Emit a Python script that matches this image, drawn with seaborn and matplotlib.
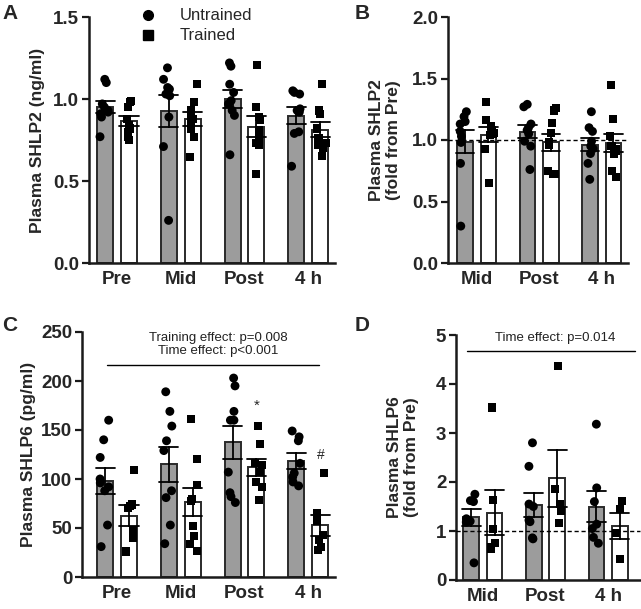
import numpy as np
import pandas as pd
import matplotlib
matplotlib.use("Agg")
import matplotlib.pyplot as plt
import seaborn as sns
from matplotlib.lines import Line2D

# ---------------- data ----------------
groups = ["Untrained", "Trained"]
times_abs = ["Pre", "Mid", "Post", "4 h"]
times_fold = ["Mid", "Post", "4 h"]

# Panel A: Plasma SHLP2 (ng/ml)
a_untrained = [
    [1.12, 1.10, 0.97, 0.95, 0.93, 0.92, 0.91, 0.89, 0.77],
    [1.19, 1.12, 1.07, 1.06, 1.03, 1.02, 0.89, 0.71, 0.26],
    [1.22, 1.20, 1.09, 1.04, 0.99, 0.97, 0.93, 0.90, 0.66],
    [1.05, 1.04, 1.03, 0.94, 0.93, 0.92, 0.80, 0.79, 0.59],
]
a_trained = [
    [0.99, 0.98, 0.95, 0.88, 0.84, 0.82, 0.80, 0.77, 0.75],
    [1.09, 0.98, 0.93, 0.91, 0.88, 0.86, 0.82, 0.77, 0.645],
    [1.21, 0.95, 0.89, 0.87, 0.81, 0.77, 0.73, 0.72, 0.54],
    [1.09, 0.93, 0.91, 0.82, 0.76, 0.73, 0.72, 0.70, 0.65],
]

# Panel B: Plasma SHLP2 fold from Pre
b_untrained = [
    [1.23, 1.19, 1.15, 1.13, 1.07, 1.03, 0.98, 0.81, 0.30],
    [1.29, 1.27, 1.13, 1.10, 1.08, 1.05, 0.99, 0.95, 0.76],
    [1.23, 1.10, 1.07, 0.99, 0.95, 0.93, 0.89, 0.81, 0.68],
]
b_trained = [
    [1.31, 1.16, 1.11, 1.08, 1.06, 1.05, 1.04, 0.93, 0.65],
    [1.26, 1.24, 1.14, 1.06, 0.98, 0.96, 0.75, 0.72, 0.72],
    [1.45, 1.17, 1.03, 0.95, 0.93, 0.91, 0.89, 0.75, 0.70],
]

# Panel C: Plasma SHLP6 (pg/ml)
c_untrained = [
    [160, 140, 122, 100, 96, 92, 88, 53, 31],
    [189, 169, 154, 139, 129, 88, 81, 53, 34],
    [203, 195, 169, 160, 160, 107, 86, 82, 76],
    [149, 143, 139, 116, 106, 102, 97, 93],
]
c_trained = [
    [109, 74, 72, 70, 48, 40, 26],
    [161, 120, 94, 80, 78, 52, 42, 34, 27],
    [154, 136, 116, 114, 107, 97, 92, 79],
    [106, 65, 57, 43, 38, 31, 28],
]

# Panel D: Plasma SHLP6 fold from Pre
d_untrained = [
    [1.75, 1.62, 1.60, 1.25, 1.20, 1.18, 0.35],
    [2.80, 2.32, 1.55, 1.50, 1.22, 1.19, 0.86, 0.84],
    [3.18, 1.88, 1.60, 1.14, 1.05, 0.87, 0.75],
]
d_trained = [
    [3.52, 1.63, 1.05, 0.75, 0.67, 0.63],
    [4.37, 1.85, 1.56, 1.41, 1.17],
    [1.62, 1.44, 0.95, 0.42],
]

# annotation texts
c_stats = ["Training effect: p=0.008", "Time effect: p<0.001"]
d_stats = ["Time effect: p=0.014"]

FONT = ["Liberation Sans", "DejaVu Sans"]
sns.set_theme(style="ticks")
plt.rcParams["font.family"] = FONT
plt.rcParams["font.weight"] = "bold"
np.random.seed(3)


def make_df(times, unt, tra):
    rows = []
    for t, u, v in zip(times, unt, tra):
        rows += [(t, "Untrained", x) for x in u]
        rows += [(t, "Trained", x) for x in v]
    return pd.DataFrame(rows, columns=["time", "group", "value"])


def draw(ax, df, order, ylim, yticks, ylabel, xlim, ticklabels):
    sns.barplot(data=df, x="time", y="value", hue="group", order=order,
                hue_order=groups,
                palette={"Untrained": "#9c9c9c", "Trained": "white"},
                edgecolor="#2a2a2a", linewidth=1.4, width=0.75, gap=1 / 3,
                errorbar="se", capsize=0.6,
                err_kws={"color": "black", "linewidth": 1.3},
                legend=False, ax=ax)
    for g, m, s in [("Untrained", "o", 6.4), ("Trained", "s", 5.8)]:
        sns.stripplot(data=df[df["group"] == g], x="time", y="value",
                      hue="group", order=order, hue_order=groups, dodge=True,
                      jitter=0.15,
                      palette={"Untrained": "black", "Trained": "black"},
                      marker=m, size=s, linewidth=0, legend=False, ax=ax)
    ax.set_ylim(*ylim)
    ax.set_xlim(*xlim)
    ax.set_yticks(yticks)
    ax.set_yticklabels(ticklabels, fontsize=13.5, fontweight="bold")
    ax.set_xticks(range(len(order)))
    ax.set_xticklabels(order, fontsize=13.5, fontweight="bold")
    ax.set_xlabel("")
    ax.set_ylabel(ylabel, fontsize=12.5, fontweight="bold")
    sns.despine(ax=ax)
    for sp in ["left", "bottom"]:
        ax.spines[sp].set_linewidth(1.8)
        ax.spines[sp].set_color("#1a1a1a")
    ax.tick_params(axis="x", length=0, pad=6)
    ax.tick_params(axis="y", length=5, width=1.6, color="#1a1a1a", pad=2)


fig = plt.figure(figsize=(6.41, 6.09), dpi=100)
W, H = 641, 609


def add_axes(x0, x1, ytop, ybot):
    return fig.add_axes([x0 / W, (H - ybot) / H, (x1 - x0) / W, (ybot - ytop) / H])


axA = add_axes(89, 335, 17, 263)
axB = add_axes(448, 628, 17, 263)
axC = add_axes(82, 335, 332, 577)
axD = add_axes(456, 640, 335, 580)

dfA = make_df(times_abs, a_untrained, a_trained)
dfB = make_df(times_fold, b_untrained, b_trained)
dfC = make_df(times_abs, c_untrained, c_trained)
dfD = make_df(times_fold, d_untrained, d_trained)

draw(axA, dfA, times_abs, (0, 1.5), [0, 0.5, 1.0, 1.5],
     "Plasma SHLP2 (ng/ml)", (-0.44, 3.42), ["0.0", "0.5", "1.0", "1.5"])
draw(axB, dfB, times_fold, (0, 2.0), [0, 0.5, 1.0, 1.5, 2.0],
     "Plasma SHLP2\n(fold from Pre)", (-0.46, 2.42),
     ["0.0", "0.5", "1.0", "1.5", "2.0"])
draw(axC, dfC, times_abs, (0, 250), [0, 50, 100, 150, 200, 250],
     "Plasma SHLP6 (pg/ml)", (-0.55, 3.42),
     ["0", "50", "100", "150", "200", "250"])
draw(axD, dfD, times_fold, (0, 5), [0, 1, 2, 3, 4, 5],
     "Plasma SHLP6\n(fold from Pre)", (-0.43, 2.51),
     ["0", "1", "2", "3", "4", "5"])

axA.yaxis.labelpad = 6
axB.yaxis.labelpad = 8
axC.yaxis.labelpad = 4
axD.yaxis.labelpad = 12

# reference lines
for ax in (axB, axD):
    ax.axhline(1.0, color="black", linestyle=(0, (3, 2)), linewidth=1.0,
               zorder=3, clip_on=False)

# stats annotations panel C
axC.plot([-0.156, 3.17], [216, 216], color="black", linewidth=1.0, clip_on=False)
axC.text(1.59, 244, c_stats[0], ha="center", va="center", fontsize=9.5,
         fontweight="normal", color="#222222")
axC.text(1.59, 231, c_stats[1], ha="center", va="center", fontsize=9.5,
         fontweight="normal", color="#222222")
axC.text(2.19, 175, "*", ha="center", va="center", fontsize=11,
         fontweight="normal")
axC.text(3.19, 124, "#", ha="center", va="center", fontsize=10,
         fontweight="normal")

# stats annotation panel D
axD.plot([-0.256, 2.43], [4.67, 4.67], color="black", linewidth=1.0, clip_on=False)
axD.text(1.15, 4.94, d_stats[0], ha="center", va="center", fontsize=9.5,
         fontweight="normal", color="#222222")

# legend in panel A
handles = [Line2D([], [], marker="o", color="black", linestyle="", markersize=7),
           Line2D([], [], marker="s", color="black", linestyle="", markersize=6.5)]
fig.legend(handles, groups, loc="upper left", bbox_to_anchor=(131 / W, 1.0),
           frameon=False, handletextpad=1.4, handlelength=1.0,
           labelspacing=0.3, borderaxespad=0.1,
           prop={"weight": "normal", "size": 12})

# panel letters
for lab, x, y in [("A", 2, 4), ("B", 355, 4), ("C", 2, 316), ("D", 355, 316)]:
    fig.text(x / W, 1 - y / H, lab, fontsize=15, fontweight="bold",
             ha="left", va="top")

fig.savefig("out.png", dpi=100)
